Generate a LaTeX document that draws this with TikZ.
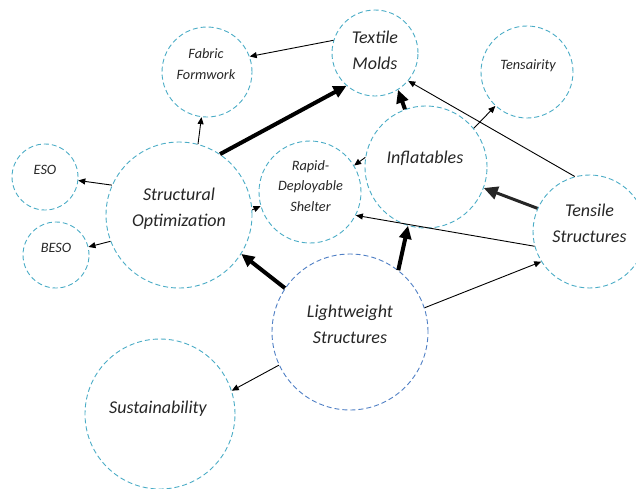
\documentclass[tikz,border=0pt]{standalone}
\usepackage{fontspec}
\setmainfont{Carlito}
\usetikzlibrary{arrows.meta}

\definecolor{ringblue}{HTML}{4BACC6}
\definecolor{coreblue}{HTML}{4F7FC4}
\definecolor{ink}{HTML}{262626}

\tikzset{
  bubble/.style={circle, draw=ringblue, line width=0.9pt,
                 dash pattern=on 5pt off 3pt, inner sep=0pt},
  corebubble/.style={bubble, draw=coreblue},
  bigtxt/.style={text=ink, align=center, inner sep=0pt,
                 font=\fontsize{18}{26}\selectfont\itshape},
  smalltxt/.style={text=ink, align=center, inner sep=0pt,
                   font=\fontsize{14.3}{20.3}\selectfont\itshape},
  thinlink/.style={line width=0.9pt, -{Triangle[length=7pt,width=6pt]}},
  midlink/.style={line width=3pt, draw=ink,
                  -{Triangle[length=14pt,width=13pt]}},
  boldlink/.style={line width=4pt, -{Triangle[length=13pt,width=12pt]}}
}

\begin{document}
\begin{tikzpicture}[x=1pt, y=-1pt]
\useasboundingbox (0,0) rectangle (636,488);

% circles
\node[bubble, minimum size=86pt]  (tm)   at (375,53)  {};
\node[bubble, minimum size=90pt]  (ff)   at (207,72)  {};
\node[bubble, minimum size=92pt]  (tsy)  at (527,72)  {};
\node[bubble, minimum size=122pt] (inf)  at (426,167) {};
\node[bubble, minimum size=102pt] (rds)  at (310,192) {};
\node[bubble, minimum size=113pt] (ten)  at (589.5,231.5) {};
\node[bubble, minimum size=146pt] (so)   at (179,215) {};
\node[bubble, minimum size=66pt]  (eso)  at (45,177)  {};
\node[bubble, minimum size=66pt]  (beso) at (56,255)  {};
\node[corebubble, minimum size=156pt] (lw) at (350,332) {};
\node[bubble, minimum size=150pt] (sus)  at (160,414) {};

% labels
\node[bigtxt]   (tmL)   at (375,50)    {Textile\\Molds};
\node[smalltxt] (ffL)   at (206,64)    {Fabric\\Formwork};
\node[smalltxt] (tsyL)  at (528,66)    {Tensairity};
\node[bigtxt]   (infL)  at (425,158.5) {Inflatables};
\node[smalltxt] (rdsL)  at (310.5,186) {Rapid-\\Deployable\\Shelter};
\node[bigtxt]   (tenL)  at (589.5,223.5) {Tensile\\Structures};
\node[bigtxt]   (soL)   at (179,208.5) {Structural\\Optimization};
\node[smalltxt] (esoL)  at (45,169.7)  {ESO};
\node[smalltxt] (besoL) at (56,248)    {BESO};
\node[bigtxt]   (lwL)   at (350,324.5) {Lightweight\\Structures};
\node[bigtxt]   (susL)  at (158,408.5) {Sustainability};

% connectors
\draw[thinlink] (tm.163)  -- (ff.20);
\draw[thinlink] (so.75)   -- (ff.263);
\draw[boldlink] (so.56)   -- (tm.229);
\draw[boldlink] (inf.110) -- (tm.-58);
\draw[thinlink] (ten.105.5) -- (tm.-40);
\draw[thinlink] (inf.39)  -- (tsy.-133);
\draw[thinlink] (inf.171) -- (rds.31);
\draw[midlink]  (ten.156) -- (inf.-20.7);
\draw[thinlink] (ten.195) -- (rds.-27);
\draw[thinlink] (lw.18.4) -- (ten.212.6);
\draw[boldlink] (lw.52.8) -- (inf.253.7);
\draw[boldlink] (lw.146)  -- (so.-32.4);
\draw[thinlink] (lw.205.6) -- (sus.18.7);
\draw[thinlink] (so.156.8) -- (eso.-6.7);
\draw[thinlink] (so.201)  -- (beso.14.4);
\draw[thinlink] (so.4.5)  -- (rds.196);
\end{tikzpicture}
\end{document}
